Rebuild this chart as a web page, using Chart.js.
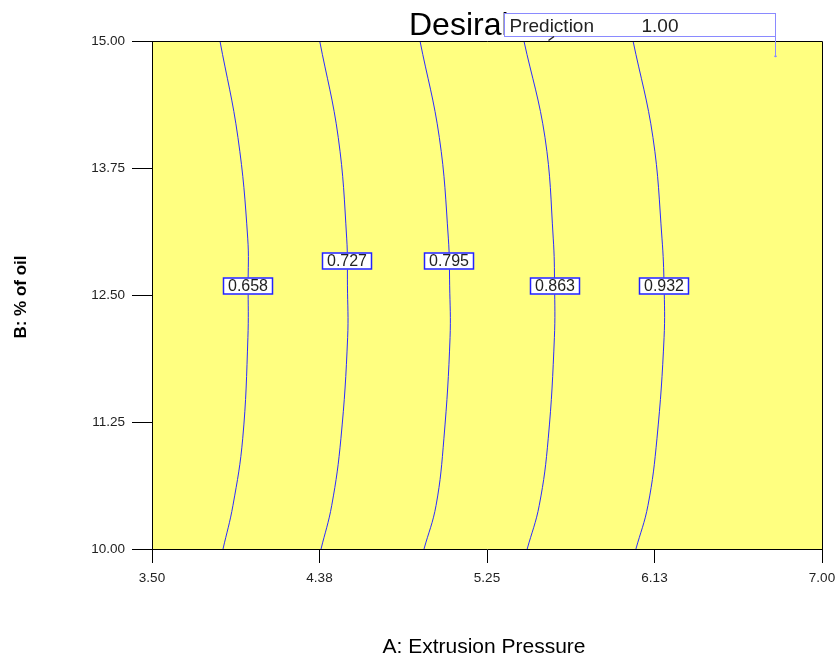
<!DOCTYPE html>
<html>
<head>
<meta charset="utf-8">
<script src="https://cdn.jsdelivr.net/npm/chart.js@4/dist/chart.umd.min.js"></script>
<style>
  html, body { margin: 0; padding: 0; background: #ffffff; }
  #wrap { width: 838px; height: 661px; }
</style>
</head>
<body>
<div id="wrap"><canvas id="c" width="838" height="661"></canvas></div>
<script>
// Axis ticks
const X_TICKS = [3.5, 4.375, 5.25, 6.125, 7.0];
const X_TICK_LABELS = ['3.50', '4.38', '5.25', '6.13', '7.00'];
const Y_TICKS = [10, 11.25, 12.5, 13.75, 15];
const Y_TICK_LABELS = ['10.00', '11.25', '12.50', '13.75', '15.00'];

// B (% of oil) levels at which each contour was traced
const B_LEVELS = [15.00, 14.05, 13.06, 12.59, 12.08, 11.09, 10.43, 10.00];

// A (extrusion pressure) along each desirability contour, one value per B level
const CONTOUR_NAMES = ['0.658', '0.727', '0.795', '0.863', '0.932'];
const A_0658 = [3.855, 3.949, 4.000, 4.002, 4.001, 3.974, 3.923, 3.871];
const A_0727 = [4.376, 4.473, 4.517, 4.521, 4.522, 4.487, 4.439, 4.383];
const A_0795 = [4.900, 5.001, 5.048, 5.055, 5.057, 5.025, 4.984, 4.921];
const A_0863 = [5.443, 5.553, 5.596, 5.603, 5.602, 5.570, 5.523, 5.460];
const A_0932 = [6.013, 6.117, 6.164, 6.175, 6.175, 6.138, 6.091, 6.028];

// where each contour carries its value label
const LABEL_A = [4.002, 4.521, 5.051, 5.603, 6.175];
const LABEL_B = [12.59, 12.835, 12.835, 12.59, 12.59];

// prediction flag
const PREDICTION_A = 6.754;
const PREDICTION_B = 14.84;
const PREDICTION_TEXT = 'Prediction';
const PREDICTION_VALUE = '1.00';

const TITLE = 'Desiral';
const X_TITLE = 'A: Extrusion Pressure';
const Y_TITLE = 'B: % of oil';

const FONT = '"Liberation Sans", Arial, Helvetica, sans-serif';
const LINE_BLUE = '#2b2bff';

const contourSeries = [A_0658, A_0727, A_0795, A_0863, A_0932];

const datasets = contourSeries.map((arr, k) => ({
  label: CONTOUR_NAMES[k],
  data: B_LEVELS.map((b, i) => ({ x: arr[i], y: b })),
  showLine: true,
  borderColor: LINE_BLUE,
  borderWidth: 1,
  pointRadius: 0,
  pointHoverRadius: 0,
  tension: 0.4,
  fill: false
}));

const contourPlot = {
  id: 'contourPlot',
  beforeDraw(chart) {
    const { ctx, chartArea: a } = chart;
    ctx.save();
    ctx.fillStyle = '#ffff80';
    ctx.fillRect(a.left, a.top, a.right - a.left, a.bottom - a.top);
    ctx.restore();
  },
  afterDatasetsDraw(chart) {
    const { ctx, chartArea: a } = chart;
    const xs = chart.scales.x, ys = chart.scales.y;
    ctx.save();

    // frame on top and right
    ctx.strokeStyle = '#000';
    ctx.lineWidth = 1;
    ctx.beginPath();
    ctx.moveTo(a.left, a.top + 0.5);
    ctx.lineTo(a.right + 0.5, a.top + 0.5);
    ctx.lineTo(a.right + 0.5, a.bottom);
    ctx.stroke();

    // contour value labels
    ctx.font = '16px ' + FONT;
    ctx.textAlign = 'center';
    ctx.textBaseline = 'middle';
    CONTOUR_NAMES.forEach((name, k) => {
      const px = Math.round(xs.getPixelForValue(LABEL_A[k]));
      const py = Math.round(ys.getPixelForValue(LABEL_B[k]));
      const w = 50, h = 17;
      ctx.fillStyle = '#ffffff';
      ctx.fillRect(px - w / 2, py - h / 2, w, h);
      ctx.strokeStyle = '#2222ff';
      ctx.lineWidth = 1.5;
      ctx.strokeRect(px - w / 2 + 0.5, py - h / 2 + 0.5, w - 1, h - 1);
      ctx.fillStyle = '#222';
      ctx.fillText(name, px, py + 1);
    });

    // title
    ctx.fillStyle = '#000';
    ctx.font = '32px ' + FONT;
    ctx.textAlign = 'left';
    ctx.textBaseline = 'alphabetic';
    ctx.fillText(TITLE, 409, 35);

    // prediction flag
    const fx = Math.round(xs.getPixelForValue(PREDICTION_A)) + 0.5;
    const fy = ys.getPixelForValue(PREDICTION_B);
    const boxTop = 13.5, boxH = 23, boxW = 271;
    ctx.fillStyle = '#ffffff';
    ctx.fillRect(fx - boxW, boxTop, boxW, boxH);
    ctx.strokeStyle = '#8a8aff';
    ctx.lineWidth = 1;
    ctx.strokeRect(fx - boxW, boxTop, boxW, boxH);
    ctx.beginPath();
    ctx.moveTo(fx, boxTop + boxH);
    ctx.lineTo(fx, fy);
    ctx.stroke();
    ctx.beginPath();
    ctx.moveTo(fx - 1.5, fy - 1);
    ctx.lineTo(fx + 1.5, fy - 1);
    ctx.stroke();
    ctx.fillStyle = '#222';
    ctx.font = '19px ' + FONT;
    ctx.fillText(PREDICTION_TEXT, fx - boxW + 5, 31.5);
    ctx.fillText(PREDICTION_VALUE, fx - boxW + 137, 31.5);
    // pointer tick under the flag box
    ctx.strokeStyle = '#222';
    ctx.lineWidth = 1.5;
    ctx.beginPath();
    ctx.moveTo(554, 36.5);
    ctx.lineTo(548.5, 40.5);
    ctx.stroke();

    // axis titles
    ctx.fillStyle = '#000';
    ctx.font = '21px ' + FONT;
    ctx.textAlign = 'center';
    ctx.textBaseline = 'alphabetic';
    ctx.fillText(X_TITLE, 484, 653);

    ctx.save();
    ctx.translate(26, 297);
    ctx.rotate(-Math.PI / 2);
    ctx.font = 'bold 17px ' + FONT;
    ctx.fillText(Y_TITLE, 0, 0);
    ctx.restore();

    ctx.restore();
  }
};

new Chart(document.getElementById('c'), {
  type: 'scatter',
  data: { datasets },
  options: {
    responsive: false,
    animation: false,
    devicePixelRatio: 1,
    layout: { padding: { left: 0, right: 16, top: 41, bottom: 0 } },
    plugins: { legend: { display: false }, tooltip: { enabled: false } },
    events: [],
    scales: {
      x: {
        type: 'linear',
        min: 3.5,
        max: 7,
        afterBuildTicks: s => { s.ticks = X_TICKS.map(v => ({ value: v })); },
        afterFit: s => { s.height = 112; s.paddingLeft = 0; s.paddingRight = 0; },
        ticks: {
          autoSkip: false,
          maxRotation: 0,
          padding: 7,
          color: '#222',
          font: { family: FONT, size: 13.5 },
          callback: (v, i) => X_TICK_LABELS[i]
        },
        grid: { drawOnChartArea: false, tickLength: 14, color: '#000', tickWidth: 1 },
        border: { color: '#000', width: 1 }
      },
      y: {
        type: 'linear',
        min: 10,
        max: 15,
        afterBuildTicks: s => { s.ticks = Y_TICKS.map(v => ({ value: v })); },
        afterFit: s => { s.width = 152; s.paddingTop = 0; s.paddingBottom = 0; },
        ticks: {
          autoSkip: false,
          padding: 7,
          color: '#222',
          font: { family: FONT, size: 13.5 },
          callback: (v, i) => Y_TICK_LABELS[i]
        },
        grid: { drawOnChartArea: false, tickLength: 20, color: '#000', tickWidth: 1 },
        border: { color: '#000', width: 1 }
      }
    }
  },
  plugins: [contourPlot]
});
</script>
</body>
</html>
